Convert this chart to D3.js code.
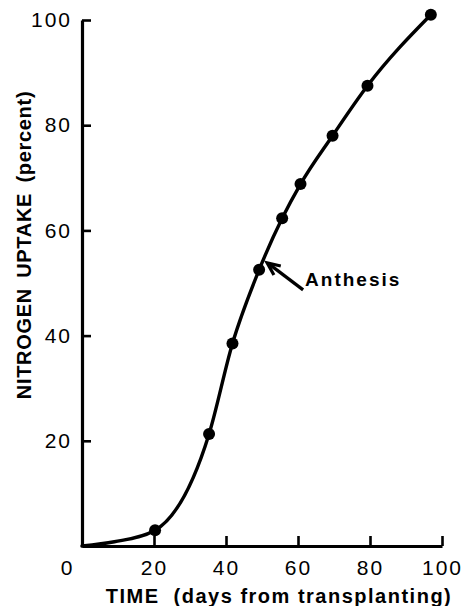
<!DOCTYPE html>
<html>
<head>
<meta charset="utf-8">
<script src="https://cdn.jsdelivr.net/npm/d3@7"></script>
<style>
  html, body { margin: 0; padding: 0; background: #fff; }
  svg { display: block; }
</style>
</head>
<body>
<svg id="chart" width="468" height="606"></svg>
<script>
// ---- data ----
const days   = [20.3, 35.3, 41.8, 49.2, 55.6, 60.7, 69.6, 79.3, 96.9];
const uptake = [3.0, 21.3, 38.5, 52.5, 62.3, 68.8, 78.0, 87.5, 101.0];
// smooth curve start (no markers)
const leadDays   = [0, 9];
const leadUptake = [0, 0.8];
const xTicks = [0, 20, 40, 60, 80, 100];
const yTicks = [20, 40, 60, 80, 100];
const anthesisIndex = 3;
const annotationText = "Anthesis";
const xTitle = "TIME  (days from transplanting)";
const yTitle = "NITROGEN UPTAKE (percent)";

// ---- drawing ----
const svg = d3.select("#chart");
const x = d3.scaleLinear().domain([0, 100]).range([82, 442]);
const y = d3.scaleLinear().domain([0, 100]).range([546, 20]);

const tickFont = "'Liberation Sans', Arial, sans-serif";

// y axis
const gy = svg.append("g").attr("transform", `translate(${x(0)},0)`)
  .call(d3.axisLeft(y).tickValues(yTicks).tickSizeInner(-9).tickSizeOuter(0).tickPadding(10)
        .tickFormat(d3.format("d")));
gy.select(".domain").attr("stroke", "#000").attr("stroke-width", 3.2);
gy.selectAll(".tick line").attr("stroke", "#000").attr("stroke-width", 2.6);
gy.selectAll(".tick text").attr("fill", "#000").style("font-family", tickFont)
  .style("font-size", "21px").style("letter-spacing", "2px");

// x axis
const gx = svg.append("g").attr("transform", `translate(0,${y(0)})`)
  .call(d3.axisBottom(x).tickValues(xTicks).tickSizeInner(-10).tickSizeOuter(0).tickPadding(14)
        .tickFormat(d3.format("d")));
gx.select(".domain").attr("stroke", "#000").attr("stroke-width", 3.2);
gx.selectAll(".tick line").attr("stroke", "#000").attr("stroke-width", 2.6);
gx.selectAll(".tick text").attr("fill", "#000").style("font-family", tickFont)
  .style("font-size", "21px").style("letter-spacing", "2px")
  .attr("dx", d => d === 0 ? -15 : 0);

// curve
const curvePts = leadDays.map((d, i) => [d, leadUptake[i]])
  .concat(days.map((d, i) => [d, uptake[i]]));
const line = d3.line().x(d => x(d[0])).y(d => y(d[1])).curve(d3.curveMonotoneX);
svg.append("path").datum(curvePts).attr("d", line)
  .attr("fill", "none").attr("stroke", "#000").attr("stroke-width", 3.4)
  .attr("stroke-linecap", "round");

// markers
svg.selectAll("circle.pt").data(days.map((d, i) => [d, uptake[i]])).enter()
  .append("circle").attr("class", "pt")
  .attr("cx", d => x(d[0])).attr("cy", d => y(d[1])).attr("r", 6).attr("fill", "#000");

// annotation
const ax = x(days[anthesisIndex]), ay = y(uptake[anthesisIndex]);
const tip = [ax + 8, ay - 7];
const tail = [ax + 44, ay + 20];
svg.append("line").attr("x1", tail[0]).attr("y1", tail[1]).attr("x2", tip[0] + 3).attr("y2", tip[1] + 2)
  .attr("stroke", "#000").attr("stroke-width", 3.2);
const ang = Math.atan2(tail[1] - tip[1], tail[0] - tip[0]);
const hl = 14, hw = 0.42;
svg.append("path")
  .attr("d", `M${tip[0] + hl * Math.cos(ang + hw)},${tip[1] + hl * Math.sin(ang + hw)} L${tip[0]},${tip[1]} L${tip[0] + hl * Math.cos(ang - hw)},${tip[1] + hl * Math.sin(ang - hw)}`)
  .attr("fill", "none").attr("stroke", "#000").attr("stroke-width", 3.2).attr("stroke-linejoin", "miter");
svg.append("text").attr("x", ax + 46).attr("y", ay + 16)
  .text(annotationText)
  .style("font-family", tickFont).style("font-weight", "bold").style("font-size", "19px")
  .style("letter-spacing", "2px").attr("fill", "#000");

// axis titles
svg.append("text").attr("x", 279).attr("y", 603).attr("text-anchor", "middle")
  .text(xTitle).style("white-space", "pre")
  .style("font-family", tickFont).style("font-weight", "bold").style("font-size", "20px")
  .style("letter-spacing", "1.5px").attr("fill", "#000");
svg.append("text").attr("transform", "translate(31,245) rotate(-90)").attr("text-anchor", "middle")
  .text(yTitle)
  .style("font-family", tickFont).style("font-weight", "bold").style("font-size", "20px")
  .style("letter-spacing", "0.7px").style("word-spacing", "4px").attr("fill", "#000");
</script>
</body>
</html>
